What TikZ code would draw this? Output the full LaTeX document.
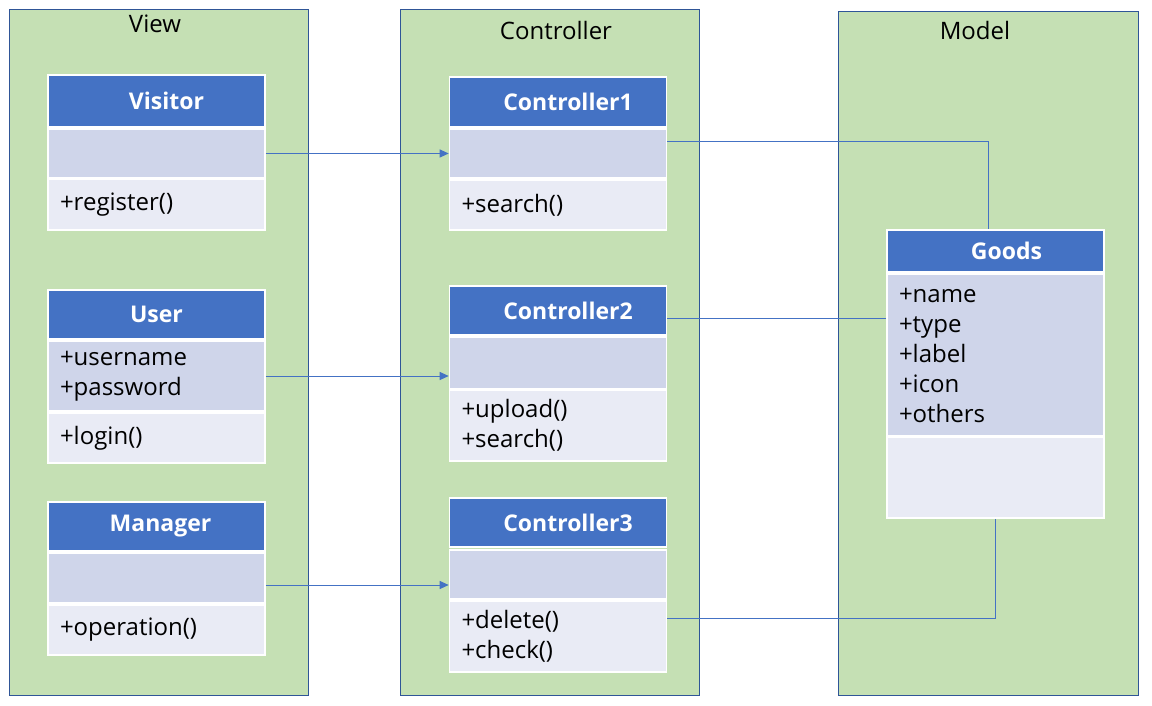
\documentclass[tikz,border=0pt]{standalone}
\usepackage{fontspec}
\setmainfont{Open Sans}
\usetikzlibrary{arrows.meta}
\definecolor{panelgreen}{HTML}{C5E0B4}
\definecolor{panelline}{HTML}{2F5597}
\definecolor{hdrblue}{HTML}{4472C4}
\definecolor{attrfill}{HTML}{CFD5EA}
\definecolor{methfill}{HTML}{E9EBF5}
\begin{document}
\begin{tikzpicture}[x=1pt,y=-1pt,
 panel/.style={draw=panelline, fill=panelgreen, line width=1pt},
 comp/.style={draw=white, line width=1.6pt, minimum width=217pt, inner xsep=12pt, inner ysep=0pt, text width=193pt, align=left, font=\fontsize{24}{30}\selectfont},
 hdr/.style={comp, fill=hdrblue, text=white, align=center, font=\bfseries\fontsize{23}{26}\selectfont},
 attr/.style={comp, fill=attrfill},
 meth/.style={comp, fill=methfill},
 title/.style={font=\fontsize{24}{26}\selectfont, inner sep=0pt},
 conn/.style={draw=hdrblue, line width=1pt},
 arr/.style={conn, -{Triangle[length=9pt,width=8pt]}}
]
\useasboundingbox (0,0) rectangle (1152,706);
% panels
\path[panel] (9,10) rectangle (308,695);
\path[panel] (400,10) rectangle (699,695);
\path[panel] (838,12) rectangle (1138,695);
\node[title] (tView) at (155,23.5) {View};
\node[title] (tCtrl) at (556,31) {Controller};
\node[title] (tModel) at (975,31) {Model};
% View classes
\node[hdr, minimum height=52pt] (visH) at (156.5,101) {\hspace*{20pt}Visitor};
\node[attr, minimum height=49pt] (visA) at (156.5,153.5) {};
\node[meth, minimum height=51pt] (visM) at (156.5,204.5) {+register()};
\node[hdr, minimum height=49pt] (userH) at (156.5,314.5) {User};
\node[attr, minimum height=70pt] (userA) at (156.5,376) {+username\\+password};
\node[meth, minimum height=50pt] (userM) at (156.5,438) {+login()};
\node[hdr, minimum height=49pt] (manH) at (156.5,526.5) {\hspace*{8pt}Manager};
\node[attr, minimum height=50pt] (manA) at (156.5,578) {};
\node[meth, minimum height=50pt] (manM) at (156.5,630) {+operation()};
% Controller classes
\node[hdr, minimum height=50pt] (c1H) at (558,102) {\hspace*{20pt}Controller1};
\node[attr, minimum height=49pt] (c1A) at (558,153.5) {};
\node[meth, minimum height=50pt] (c1M) at (558,205) {+search()};
\node[hdr, minimum height=49pt] (c2H) at (558,310.5) {\hspace*{20pt}Controller2};
\node[attr, minimum height=52pt] (c2A) at (558,363) {};
\node[meth, minimum height=71pt] (c2M) at (558,425.5) {+upload()\\+search()};
\node[hdr, minimum height=49pt] (c3H) at (558,522.5) {\hspace*{20pt}Controller3};
\node[attr, minimum height=49pt] (c3A) at (558,574.5) {};
\node[meth, minimum height=71pt] (c3M) at (558,636.5) {+delete()\\+check()};
% Model class
\node[hdr, minimum height=42pt] (goodsH) at (995.5,251) {\hspace*{22pt}Goods};
\node[attr, minimum height=162pt] (goodsA) at (995.5,355) {+name\\+type\\+label\\+icon\\+others};
\node[meth, minimum height=81pt] (goodsM) at (995.5,477.5) {};
% connectors
\draw[arr] (visA.east) -- (c1A.west);
\draw[arr] (userA.east) -- (userA.east -| c2A.west);
\draw[arr] ([yshift=-7pt]manA.east) -- ([yshift=-7pt]manA.east -| c3A.west);
\draw[conn] ([yshift=11.5pt]c1A.east) -| ([xshift=-7.5pt]goodsH.north);
\draw[conn] ([yshift=-8pt]c2H.east) -- ([yshift=-8pt]c2H.east -| goodsA.west);
\draw[conn] ([yshift=18.5pt]c3M.east) -| (goodsM.south);
\end{tikzpicture}
\end{document}
